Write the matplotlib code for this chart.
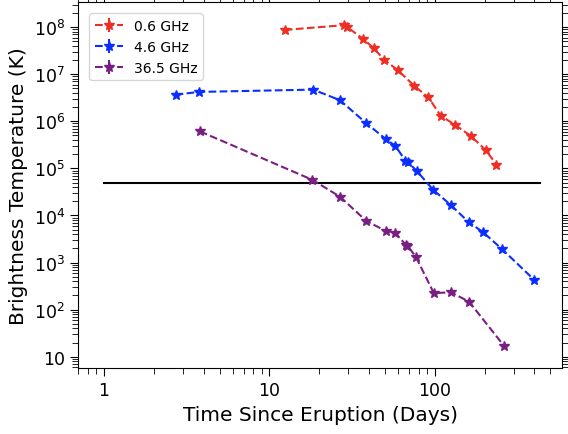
import numpy as np
import matplotlib
matplotlib.use('Agg')
import matplotlib.pyplot as plt
from matplotlib.ticker import LogLocator, NullFormatter

# 0.6 GHz
t_06 = [12.4, 28.4, 29.5, 36.9, 42.6, 49.6, 60, 75.3, 91.5, 108.7, 132, 166, 204, 236]
tb_06 = [8.7e7, 1.1e8, 1.0e8, 5.6e7, 3.6e7, 2.0e7, 1.2e7, 5.6e6, 3.2e6, 1.3e6, 8.5e5, 4.8e5, 2.4e5, 1.2e5]

# 4.6 GHz
t_46 = [2.71, 3.75, 18.4, 26.7, 38.5, 50.5, 57.8, 66.4, 69, 78, 97.8, 125, 161, 196, 256, 398]
tb_46 = [3.66e6, 4.2e6, 4.7e6, 2.8e6, 9.1e5, 4.2e5, 3.0e5, 1.45e5, 1.35e5, 8.7e4, 3.5e4, 1.66e4, 7.1e3, 4.4e3, 1.9e3, 433]

# 36.5 GHz
t_365 = [3.8, 18.2, 26.7, 38.6, 50.5, 57.8, 66.7, 68.3, 77, 98.6, 125, 161, 262]
tb_365 = [6.1e5, 5.7e4, 2.5e4, 7.6e3, 4.7e3, 4.2e3, 2.4e3, 2.3e3, 1.3e3, 224, 234, 148, 17]

tb_limit = 5e4

fig, ax = plt.subplots(figsize=(5.68, 4.35), dpi=100)

series = [(t_06, tb_06, '#ee2e24', '0.6 GHz'),
          (t_46, tb_46, '#0a2eff', '4.6 GHz'),
          (t_365, tb_365, '#7a1f82', '36.5 GHz')]
for t, tb, c, lab in series:
    tb = np.array(tb)
    ax.errorbar(t, tb, yerr=0.12*tb, fmt='*--', color=c, ms=7, lw=1.5, label=lab)

ax.plot([1, 430], [tb_limit, tb_limit], color='black', lw=1.5)

ax.set_xscale('log')
ax.set_yscale('log')
ax.set_xlim(0.7, 590)
ax.set_ylim(5.8, 3.4e8)

yt = [10**k for k in range(1, 9)]
ax.set_yticks(yt)
ax.set_yticklabels(['10'] + [r'$10^{%d}$' % k for k in range(2, 9)])
ax.yaxis.set_minor_locator(LogLocator(base=10, subs=np.arange(2, 10), numticks=30))
ax.yaxis.set_minor_formatter(NullFormatter())
ax.set_xticks([1, 10, 100])
ax.set_xticklabels(['1', '10', '100'])

ax.tick_params(which='both', direction='out', top=True, right=True, labelsize=12.5)
ax.tick_params(which='major', length=6)
ax.tick_params(which='minor', length=4)

ax.set_xlabel('Time Since Eruption (Days)', fontsize=14.5)
ax.set_ylabel('Brightness Temperature (K)', fontsize=14.5)
ax.legend(loc='upper left', fontsize=10, borderaxespad=0.8)

plt.subplots_adjust(left=0.138, right=0.99, top=0.993, bottom=0.152)
plt.savefig('out.png')
